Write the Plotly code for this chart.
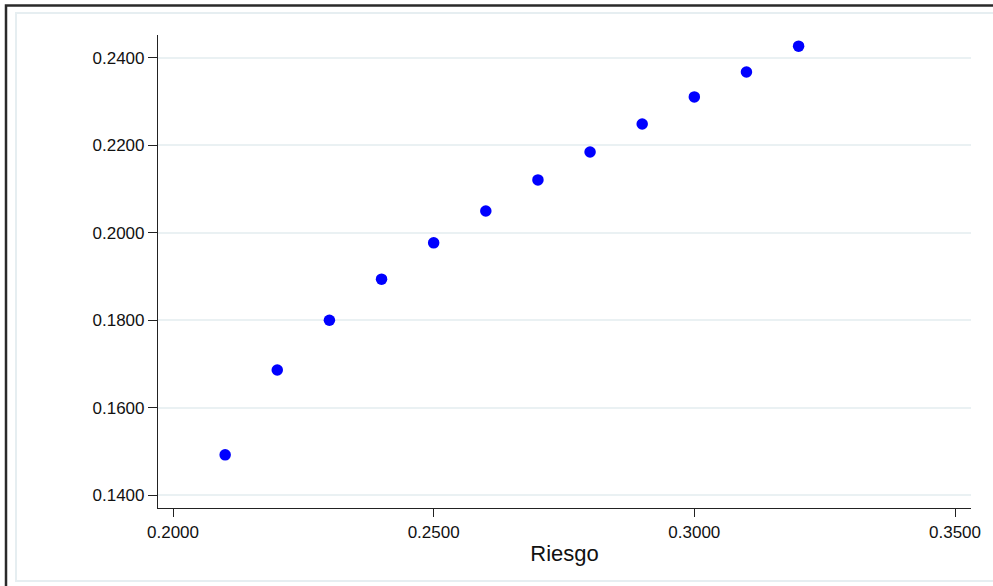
import plotly.graph_objects as go

# Risk (x) vs expected return (y) for the portfolio combinations
riesgo = [0.21, 0.22, 0.23, 0.24, 0.25, 0.26, 0.27, 0.28, 0.29, 0.30, 0.31, 0.32]
retorno = [0.1492, 0.1686, 0.1800, 0.1894, 0.1977, 0.2050, 0.2121, 0.2185,
           0.2249, 0.2311, 0.2368, 0.2427]

x_ticks = [0.20, 0.25, 0.30, 0.35]
y_ticks = [0.14, 0.16, 0.18, 0.20, 0.22, 0.24]

W, H = 993, 586
L, R, T, B = 158, 22, 35, 78
pw, ph = W - L - R, H - T - B


def px(x):
    return (x - L) / pw


def py(y):
    return (H - B - y) / ph


fig = go.Figure()
fig.add_trace(go.Scatter(
    x=riesgo, y=retorno, mode="markers",
    marker=dict(color="#0000ff", size=11.5, line=dict(width=0)),
    showlegend=False, hoverinfo="x+y",
))

font = "Liberation Sans, Arial, Helvetica, sans-serif"
axis_col = "#222222"
grid_col = "#eaf1f3"

fig.update_layout(
    width=W, height=H,
    margin=dict(l=L, r=R, t=T, b=B),
    paper_bgcolor="white", plot_bgcolor="white",
    font=dict(family=font, size=17, color="#111111"),
    xaxis=dict(
        range=[0.19712, 0.35307], tickvals=x_ticks, tickformat=".4f",
        showgrid=False, zeroline=False,
        showline=True, linecolor=axis_col, linewidth=1.2,
        ticks="outside", ticklen=8, tickcolor=axis_col, tickwidth=1,
        title=dict(text="Riesgo", font=dict(size=22), standoff=5),
    ),
    yaxis=dict(
        range=[0.13703, 0.24526], tickvals=y_ticks, tickformat=".4f",
        showgrid=True, gridcolor=grid_col, gridwidth=2, zeroline=False,
        showline=True, linecolor=axis_col, linewidth=1.2,
        ticks="outside", ticklen=9, tickcolor=axis_col, tickwidth=1,
    ),
    shapes=[
        # inner light frame of the graph region
        dict(type="rect", xref="paper", yref="paper",
             x0=px(16), x1=px(1010), y0=py(581), y1=py(13),
             line=dict(color="#e6eef1", width=2), fillcolor="rgba(0,0,0,0)",
             layer="below"),
        # outer dark border
        dict(type="rect", xref="paper", yref="paper",
             x0=px(6), x1=px(1020), y0=py(620), y1=py(5.5),
             line=dict(color="#2a2a2a", width=2.5), fillcolor="rgba(0,0,0,0)",
             layer="above"),
    ],
)

fig.write_html("out.html")
